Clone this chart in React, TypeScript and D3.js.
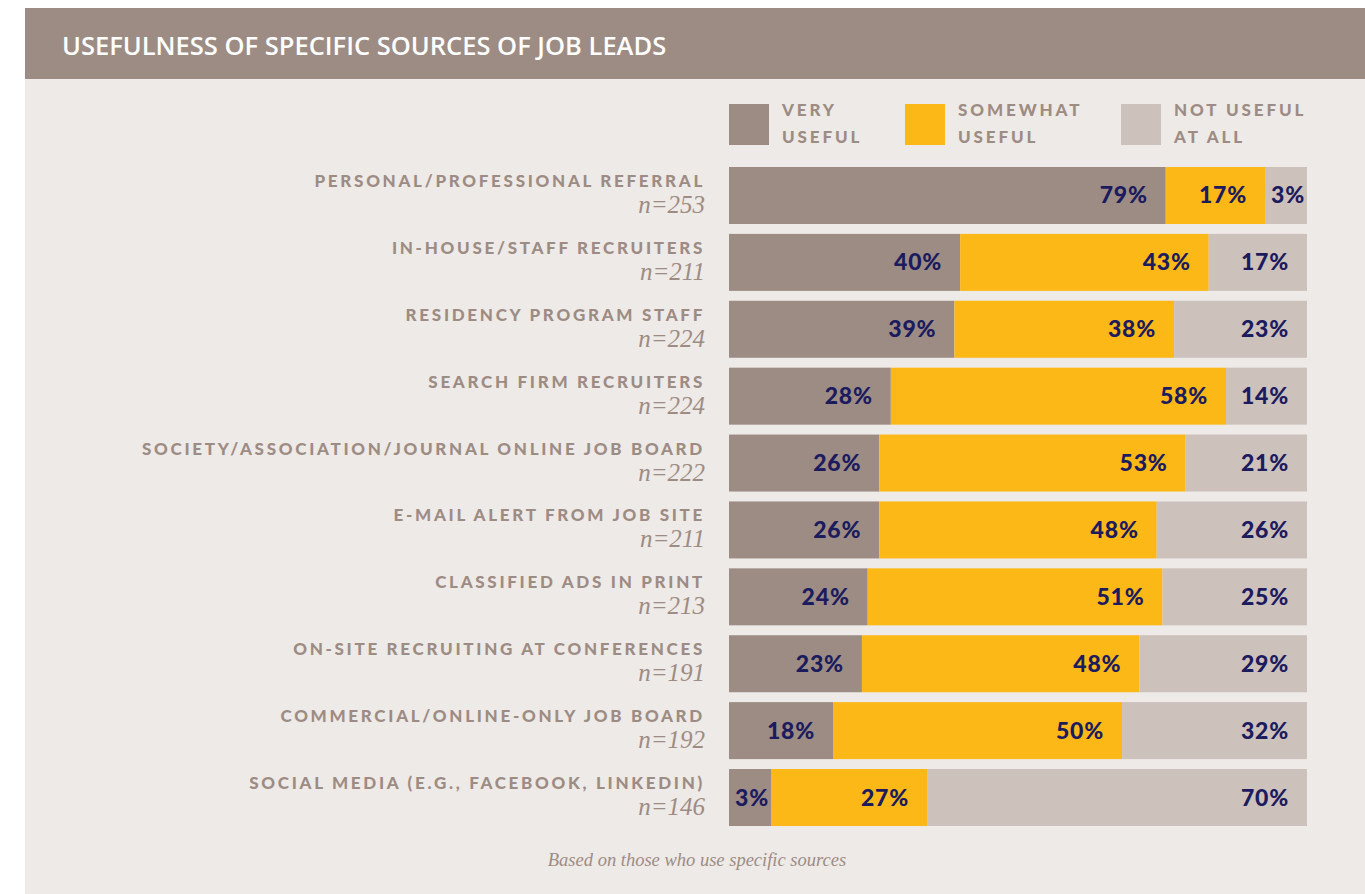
import React from "react";
import * as d3 from "d3";

const categories = [
  "PERSONAL/PROFESSIONAL REFERRAL",
  "IN-HOUSE/STAFF RECRUITERS",
  "RESIDENCY PROGRAM STAFF",
  "SEARCH FIRM RECRUITERS",
  "SOCIETY/ASSOCIATION/JOURNAL ONLINE JOB BOARD",
  "E-MAIL ALERT FROM JOB SITE",
  "CLASSIFIED ADS IN PRINT",
  "ON-SITE RECRUITING AT CONFERENCES",
  "COMMERCIAL/ONLINE-ONLY JOB BOARD",
  "SOCIAL MEDIA (E.G., FACEBOOK, LINKEDIN)",
];
const sampleSizes = [253, 211, 224, 224, 222, 211, 213, 191, 192, 146];
const veryUseful = [79, 40, 39, 28, 26, 26, 24, 23, 18, 3];
const somewhatUseful = [17, 43, 38, 58, 53, 48, 51, 48, 50, 27];
const notUseful = [3, 17, 23, 14, 21, 26, 25, 29, 32, 70];
const seriesNames = [["VERY", "USEFUL"], ["SOMEWHAT", "USEFUL"], ["NOT USEFUL", "AT ALL"]];
const seriesColors = ["#9d8c84", "#fbb817", "#cdc1bc"];
const title = "USEFULNESS OF SPECIFIC SOURCES OF JOB LEADS";
const footnote = "Based on those who use specific sources";

const W = 1365;
const H = 894;
const BG = "#eeeae7";
const TXT = "#9d8c84";
const NAVY = "#1b1b5e";
const MIN_SEG = 42;

export default function App() {
  const x = d3.scaleLinear().domain([0, 1]).range([729, 1307]);
  const y = d3.scaleBand<string>().domain(categories).range([167, 826]).paddingInner(0.148).paddingOuter(0);
  const totalW = x.range()[1] - x.range()[0];

  const rows = categories.map((c, i) => {
    const vals = [veryUseful[i], somewhatUseful[i], notUseful[i]];
    const sum = d3.sum(vals);
    let widths = vals.map((v) => x(v / sum) - x(0));
    const maxIdx = d3.maxIndex(widths);
    widths = widths.map((w, k) => (k !== maxIdx && w < MIN_SEG ? MIN_SEG : w));
    const others = d3.sum(widths.filter((_, k) => k !== maxIdx));
    widths[maxIdx] = totalW - others;
    let acc = x(0);
    const segs = widths.map((w, k) => {
      const s = { x0: acc, x1: acc + w, v: vals[k], k };
      acc += w;
      return s;
    });
    return { c, i, segs };
  });

  const legendX = [729, 905, 1121];

  return (
    <svg width={W} height={H} style={{ position: "absolute", left: 0, top: 0, display: "block" }}>
      <rect x={0} y={0} width={W} height={H} fill="#ffffff" />
      <rect x={25} y={8} width={W - 25} height={H - 8} fill={BG} />
      <rect x={25} y={8} width={W - 25} height={71} fill={TXT} />
      <text x={62} y={55} fill="#ffffff" fontFamily="'Open Sans', sans-serif" fontWeight={600} fontSize={25.5}>
        {title}
      </text>

      {seriesNames.map((nm, k) => (
        <g key={k}>
          <rect x={legendX[k]} y={104} width={40} height={41} fill={seriesColors[k]} />
          {nm.map((line, j) => (
            <text
              key={j}
              x={legendX[k] + 53}
              y={116 + j * 27}
              fill={TXT}
              fontFamily="Lato, sans-serif"
              fontWeight={900}
              fontSize={17}
              letterSpacing={2.9}
            >
              {line}
            </text>
          ))}
        </g>
      ))}

      {rows.map((r) => {
        const y0 = y(r.c) as number;
        const bh = y.bandwidth();
        return (
          <g key={r.c}>
            <text
              x={705}
              y={y0 + 20}
              textAnchor="end"
              fill={TXT}
              fontFamily="Lato, sans-serif"
              fontWeight={900}
              fontSize={17}
              letterSpacing={2.7}
            >
              {r.c}
            </text>
            <text
              x={705}
              y={y0 + 46}
              textAnchor="end"
              fill={TXT}
              fontFamily="'Liberation Serif', serif"
              fontStyle="italic"
              fontSize={25}
            >
              {"n=" + sampleSizes[r.i]}
            </text>
            {r.segs.map((s) => (
              <rect key={s.k} x={s.x0} y={y0} width={s.x1 - s.x0} height={bh} fill={seriesColors[s.k]} />
            ))}
            {r.segs.map((s) => {
              const w = s.x1 - s.x0;
              const pad = w < 60 ? 2 : 18;
              return (
                <text
                  key={"t" + s.k}
                  x={s.x1 - pad}
                  y={y0 + bh / 2 + 8}
                  textAnchor="end"
                  fill={NAVY}
                  fontFamily="Lato, sans-serif"
                  fontWeight={900}
                  fontSize={23}
                  letterSpacing={0.8}
                >
                  {s.v + "%"}
                </text>
              );
            })}
          </g>
        );
      })}

      <text
        x={697}
        y={866}
        textAnchor="middle"
        fill={TXT}
        fontFamily="'Liberation Serif', serif"
        fontStyle="italic"
        fontSize={18.5}
      >
        {footnote}
      </text>
    </svg>
  );
}
